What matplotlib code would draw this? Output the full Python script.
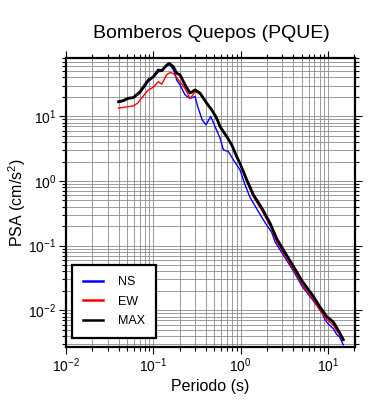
import numpy as np
import matplotlib
matplotlib.use("Agg")
import matplotlib.pyplot as plt
from matplotlib.ticker import LogLocator, LogFormatterSciNotation, NullFormatter

plt.rcParams['font.family'] = ['Liberation Sans', 'DejaVu Sans']
plt.rcParams['mathtext.fontset'] = 'custom'
plt.rcParams['mathtext.rm'] = 'Liberation Sans'
plt.rcParams['mathtext.it'] = 'Liberation Sans:italic'
plt.rcParams['mathtext.bf'] = 'Liberation Sans:bold'

title = "Bomberos Quepos (PQUE)"
xlabel = "Periodo (s)"
ylabel = "PSA (cm/s$^2$)"
series_names = ["NS", "EW", "MAX"]

# MAX
t_max = [0.040, 0.045, 0.0518, 0.059, 0.0704, 0.0877, 0.100, 0.114, 0.125, 0.142,
         0.152, 0.169, 0.185, 0.202, 0.231, 0.263, 0.301, 0.343, 0.409, 0.467,
         0.532, 0.581, 0.693, 0.79, 0.90, 0.98, 1.175, 1.40, 1.75, 2.17, 2.59,
         3.2, 4.02, 5.0, 6.8, 8.0, 9.7, 11.5, 13.0, 15.0]
psa_max = [16.9, 17.5, 19.1, 19.5, 24.0, 36.6, 41.0, 52.0, 51.0, 62.0,
           66.0, 59.0, 46.5, 44.0, 30.7, 22.9, 25.7, 22.9, 16.0, 12.6,
           9.4, 6.95, 4.87, 3.63, 2.39, 1.89, 1.04, 0.61, 0.381, 0.223, 0.128,
           0.079, 0.048, 0.029, 0.0164, 0.0115, 0.0080, 0.0066, 0.0050, 0.0035]

# EW
t_ew = [0.040, 0.0475, 0.059, 0.066, 0.0755, 0.0877, 0.100, 0.114, 0.125, 0.142,
        0.155, 0.169, 0.185, 0.202, 0.231, 0.263, 0.28, 0.301, 0.343, 0.409,
        0.467, 0.532, 0.581, 0.693, 0.79, 0.90, 0.98, 1.175, 1.40, 1.75, 2.17,
        2.59, 3.2, 4.02, 5.0, 6.8, 8.0, 9.7, 11.5, 13.0, 15.0]
psa_ew = [13.4, 13.9, 14.5, 16.0, 20.2, 25.7, 28.2, 34.5, 31.5, 44.0,
          47.5, 46.5, 40.0, 34.0, 27.0, 19.0, 21.0, 24.5, 22.0, 15.5,
          12.2, 9.0, 6.7, 4.8, 3.6, 2.4, 1.85, 0.98, 0.57, 0.35, 0.203,
          0.115, 0.071, 0.043, 0.0258, 0.0146, 0.0103, 0.0072, 0.0059, 0.0045, 0.0036]

# NS
t_ns = [0.040, 0.045, 0.0518, 0.059, 0.0704, 0.0877, 0.100, 0.114, 0.125, 0.142,
        0.152, 0.162, 0.175, 0.185, 0.202, 0.231, 0.245, 0.263, 0.301, 0.322,
        0.363, 0.402, 0.454, 0.509, 0.581, 0.634, 0.722, 0.826, 0.98, 1.12,
        1.28, 1.53, 1.91, 2.27, 2.48, 3.2, 4.02, 5.0, 6.8, 8.5, 9.27, 10.0,
        11.5, 12.6, 13.5, 15.0]
psa_ns = [16.5, 17.2, 18.8, 19.2, 22.9, 34.5, 40.0, 49.0, 50.0, 60.0,
          64.0, 58.0, 49.0, 36.6, 30.7, 21.5, 20.2, 19.0, 20.2, 14.2,
          8.8, 7.4, 10.0, 6.95, 4.6, 3.03, 2.86, 2.13, 1.50, 0.88,
          0.56, 0.37, 0.225, 0.160, 0.114, 0.066, 0.0405, 0.024, 0.0140, 0.0092,
          0.0071, 0.0062, 0.0052, 0.0042, 0.0039, 0.0029]

W, H = 390, 400
fig = plt.figure(figsize=(W / 100, H / 100), dpi=100)
ax = fig.add_axes([66 / W, 1 - 347 / H, (355 - 66) / W, (347 - 58) / H])

ax.plot(t_ns, psa_ns, color="#0000ff", lw=1.0, label=series_names[0], zorder=3)
ax.plot(t_ew, psa_ew, color="#ff0000", lw=1.0, label=series_names[1], zorder=4)
ax.plot(t_max, psa_max, color="#000000", lw=2.0, label=series_names[2], zorder=5)

ax.set_xscale("log")
ax.set_yscale("log")
ax.set_xlim(0.01, 20.4)
ax.set_ylim(0.0027, 80)

for axis in (ax.xaxis, ax.yaxis):
    axis.set_major_locator(LogLocator(base=10, numticks=20))
    axis.set_minor_locator(LogLocator(base=10, subs=np.arange(2, 10), numticks=50))
    axis.set_minor_formatter(NullFormatter())
    axis.set_major_formatter(LogFormatterSciNotation())

ax.grid(True, which="both", color="#8c8c8c", lw=0.6)
ax.set_axisbelow(True)

ax.tick_params(which="both", direction="out", top=True, right=True,
               labeltop=False, labelright=False, width=0.8, labelsize=10,
               color="black")
ax.tick_params(which="major", length=5, pad=2)
ax.tick_params(which="minor", length=3)
for s in ax.spines.values():
    s.set_linewidth(1.6)

ax.set_xlabel(xlabel, fontsize=11.5, labelpad=3)
ax.set_ylabel(ylabel, fontsize=11.5, labelpad=0)
fig.text(211 / W, 1 - 33 / H, title, ha="center", va="center", fontsize=14)

leg = ax.legend(loc="lower left", bbox_to_anchor=(0.02, 0.03), fontsize=9,
                frameon=True, fancybox=False, framealpha=1, edgecolor="black",
                handlelength=1.6, borderpad=0.9, labelspacing=0.6, handletextpad=1.2,
                borderaxespad=0)
leg.get_frame().set_linewidth(1.6)
for line in leg.get_lines():
    line.set_linewidth(1.8)

fig.savefig("out.png", dpi=100)
